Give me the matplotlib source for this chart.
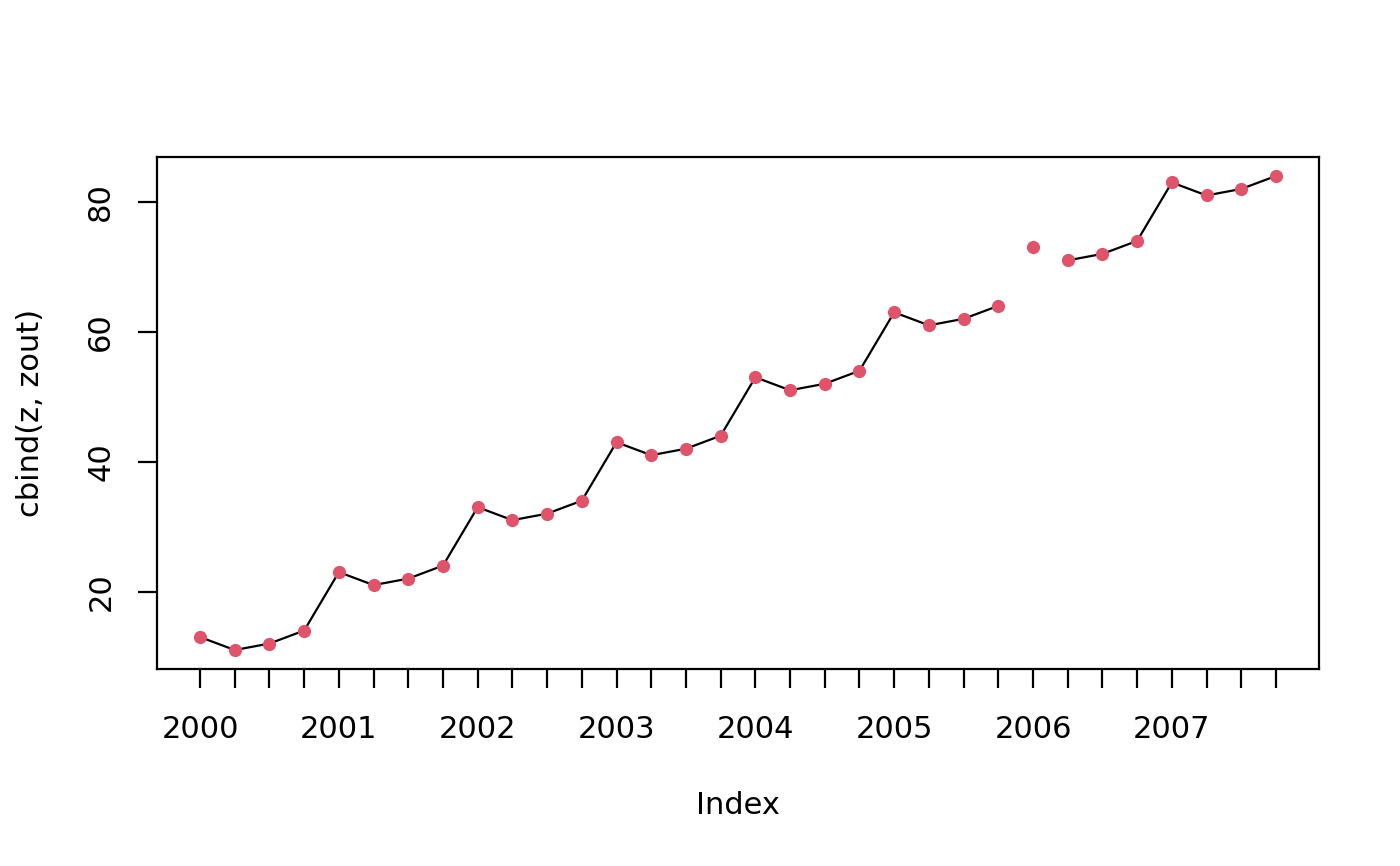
import numpy as np
import matplotlib.pyplot as plt

plt.rcParams['font.family'] = ['DejaVu Sans']

# quarterly index 2000 Q1 .. 2007 Q4
years = list(range(2000, 2008))
quarters = np.arange(2000, 2008, 0.25)
zout = [13, 11, 12, 14, 23, 21, 22, 24, 33, 31, 32, 34, 43, 41, 42, 44,
        53, 51, 52, 54, 63, 61, 62, 64, 73, 71, 72, 74, 83, 81, 82, 84]
# the line series has a missing value at 2006 Q1
z = [v if q != 2006.0 else np.nan for q, v in zip(quarters, zout)]

fig = plt.figure(figsize=(14, 8.66), dpi=100)
ax = fig.add_axes([157/1400, 1 - 669/866, (1319-157)/1400, (669-157)/866])

ax.plot(quarters, z, color='black', lw=1.6)
ax.plot(quarters, zout, 'o', color='#DF536B', ms=9.5, mec='none')

ax.set_xlim(1999.69, 2008.06)
ax.set_ylim(8.08, 86.92)

ax.set_xticks(quarters)
ax.set_xticklabels([str(int(q)) if q == int(q) else '' for q in quarters])
ax.set_yticks([20, 40, 60, 80])
ax.set_yticklabels(['20', '40', '60', '80'], rotation=90, va='center')

ax.tick_params(axis='both', direction='out', length=14, width=1.6,
               labelsize=22, colors='black')
ax.tick_params(axis='x', pad=19)
ax.tick_params(axis='y', pad=16)
for s in ax.spines.values():
    s.set_linewidth(1.6)

ax.set_xlabel('Index', fontsize=22, labelpad=34)
ax.set_ylabel('cbind(z, zout)', fontsize=22, labelpad=30)

fig.savefig('out.png', dpi=100)
